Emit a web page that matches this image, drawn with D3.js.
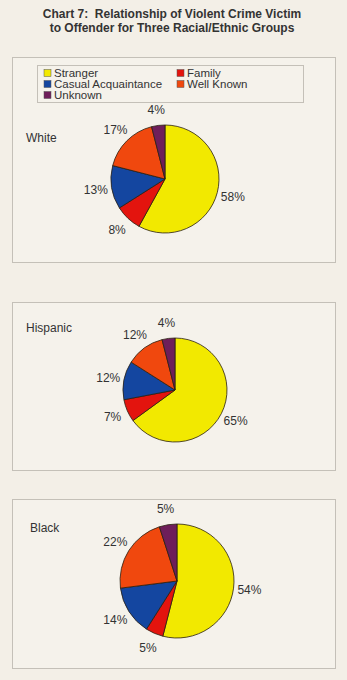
<!DOCTYPE html>
<html>
<head>
<script src="https://cdn.jsdelivr.net/npm/d3@7"></script>
<style type="text/css">
  body { margin: 0; background: #f3efe7; }
  text { font-family: "Liberation Sans", Arial, sans-serif; white-space: pre; }
</style>
</head>
<body>
<script>
  var categories = ["Stranger", "Family", "Casual Acquaintance", "Well Known", "Unknown"];
  var colors = ["#f2e900", "#e3140e", "#1446a0", "#f0480e", "#6e1e5a"];
  var groups = ["White", "Hispanic", "Black"];
  var whiteValues = [58, 8, 13, 17, 4];
  var hispanicValues = [65, 7, 12, 12, 4];
  var blackValues = [54, 5, 14, 22, 5];

  // panel layout (box, pie center, radius, group label position)
  var panels = [
    {values: whiteValues,    box: [12, 57, 323, 205],  cx: 165, cy: 179, r: 54, lx: 26, ly: 142},
    {values: hispanicValues, box: [12, 302, 323, 168], cx: 175, cy: 390, r: 52, lx: 26, ly: 332},
    {values: blackValues,    box: [12, 499, 323, 169], cx: 177, cy: 581, r: 57, lx: 30, ly: 532}
  ];

  var svg = d3.select("body").append("svg")
    .attr("width", 347)
    .attr("height", 680);

  svg.append("text")
    .attr("x", 172).attr("y", 18)
    .attr("text-anchor", "middle")
    .attr("font-weight", "bold")
    .attr("font-size", 12)
    .attr("fill", "#333")
    .text("Chart 7:  Relationship of Violent Crime Victim");
  svg.append("text")
    .attr("x", 172).attr("y", 32)
    .attr("text-anchor", "middle")
    .attr("font-weight", "bold")
    .attr("font-size", 12)
    .attr("fill", "#333")
    .text("to Offender for Three Racial/Ethnic Groups");

  var color = d3.scaleOrdinal().domain(categories).range(colors);
  var pie = d3.pie().sort(null).value(function (d) { return d.value; });

  panels.forEach(function (p, i) {
    svg.append("rect")
      .attr("x", p.box[0] + 0.5).attr("y", p.box[1] + 0.5)
      .attr("width", p.box[2]).attr("height", p.box[3])
      .attr("fill", "#f5f2eb")
      .attr("stroke", "#c4c0b8");

    svg.append("text")
      .attr("x", p.lx).attr("y", p.ly)
      .attr("font-size", 12)
      .attr("fill", "#333")
      .text(groups[i]);

    var data = categories.map(function (c, j) { return {cat: c, value: p.values[j]}; });
    var arc = d3.arc().innerRadius(0).outerRadius(p.r);
    var labelArc = d3.arc().innerRadius(p.r + 16).outerRadius(p.r + 16);

    var g = svg.append("g")
      .attr("transform", "translate(" + p.cx + "," + p.cy + ")");

    g.selectAll("path")
      .data(pie(data))
      .enter()
      .append("path")
      .attr("d", arc)
      .attr("fill", function (d) { return color(d.data.cat); })
      .attr("stroke", "#2a2010")
      .attr("stroke-width", 0.8);

    g.selectAll("text")
      .data(pie(data))
      .enter()
      .append("text")
      .attr("x", function (d) { return labelArc.centroid(d)[0]; })
      .attr("y", function (d) { return labelArc.centroid(d)[1]; })
      .attr("dy", "0.36em")
      .attr("text-anchor", "middle")
      .attr("font-size", 12)
      .attr("fill", "#333")
      .text(function (d) { return d.data.value + "%"; });
  });

  // legend in the first panel
  var legend = svg.append("g");
  legend.append("rect")
    .attr("x", 37.5).attr("y", 65.5)
    .attr("width", 266).attr("height", 37)
    .attr("fill", "#f5f2eb")
    .attr("stroke", "#c4c0b8");

  var item = legend.selectAll("g.item")
    .data(categories)
    .enter()
    .append("g")
    .attr("class", "item")
    .attr("transform", function (d, j) {
      return "translate(" + (j % 2 === 0 ? 44 : 177) + "," + (73 + Math.floor(j / 2) * 11) + ")";
    });
  item.append("rect")
    .attr("x", 0).attr("y", -3.5)
    .attr("width", 7).attr("height", 7)
    .attr("fill", function (d) { return color(d); })
    .attr("stroke", "#555")
    .attr("stroke-width", 0.5);
  item.append("text")
    .attr("x", 10).attr("y", 0)
    .attr("dy", "0.36em")
    .attr("font-size", 11.5)
    .attr("fill", "#333")
    .text(function (d) { return d; });
</script>
</body>
</html>
